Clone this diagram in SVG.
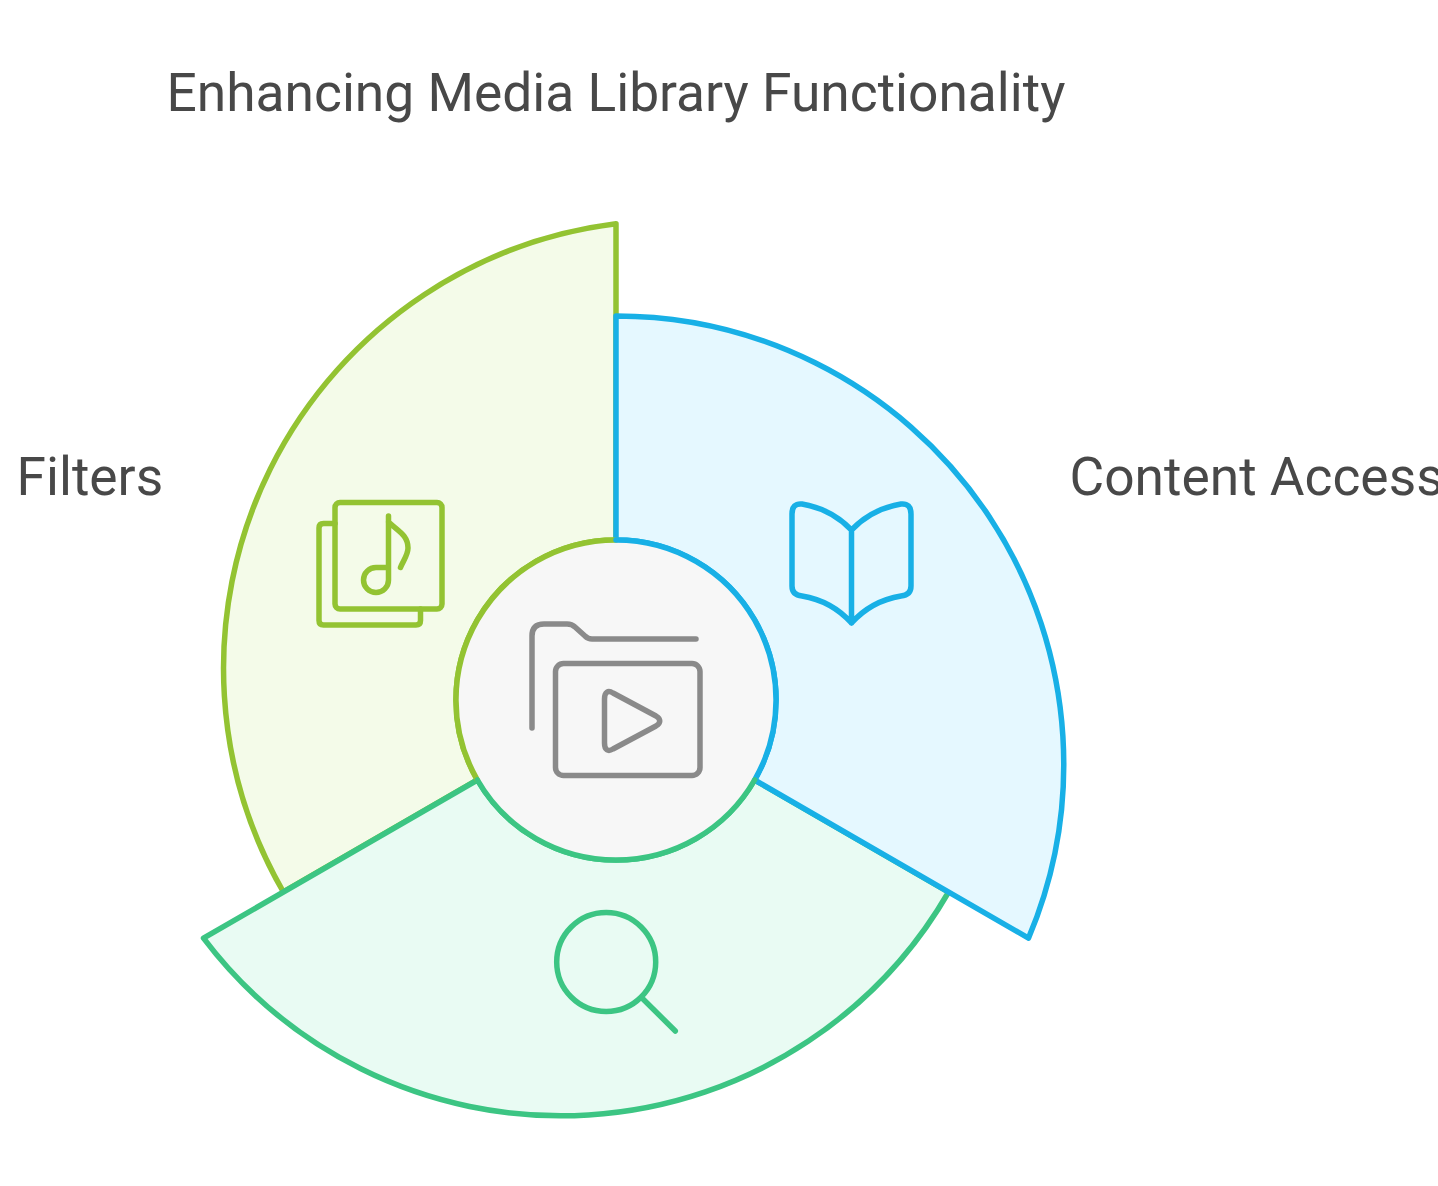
<svg xmlns="http://www.w3.org/2000/svg" width="1438" height="1186" viewBox="0 0 1438 1186">
<style>
text{font-family:Roboto,"Liberation Sans",sans-serif;font-size:53.3px;fill:#484848}
.s{stroke-width:5.5;stroke-linejoin:round;stroke-linecap:round}
.i{fill:none;stroke-width:5.5;stroke-linejoin:round;stroke-linecap:round}
.y{stroke:#93c332}.b{stroke:#18b0e6}.g{stroke:#3cc583}.k{stroke:#8a8a8a}
</style>
<rect width="1438" height="1186" fill="#fff"/>
<text id="title" x="166.500" y="111">Enhancing Media Library Functionality</text>
<g id="filters">
<path class="s y" fill="#f4fbe9" d="M616 540V223.700A448 448 0 0 0 283.400 892L477.400 780A160 160 0 0 1 616 540Z"/>
<path class="i y" d="M335 523.500H323.500Q319 523.500 319 528V620.500Q319 625 323.500 625H416Q420.500 625 420.500 620.500V609"/>
<rect class="i y" x="335" y="502.500" width="107" height="106.500" rx="5"/>
<path class="i y" d="M388.500 516V580A12.500 12.500 0 1 1 376 567.500H388.500M388.500 522C398 531 408 535 408 548C408 555 403 561 400.500 567.500"/>
<text x="16.500" y="494.500">Filters</text>
</g>
<g id="search">
<path class="s g" fill="#e9fbf3" d="M477.400 780L203.500 938.150A448 448 0 0 0 948.600 892L754.600 780A160 160 0 0 1 477.400 780Z"/>
<circle class="i g" cx="606.200" cy="962" r="49.500"/>
<path class="i g" d="M642 998L675.300 1031"/>
</g>
<g id="content-access">
<path class="s b" fill="#e5f8ff" d="M616 540V316A448 448 0 0 1 1028.500 938.150L754.600 780A160 160 0 0 0 616 540Z"/>
<path class="i b" d="M851.500 530C838 516 820 507 802 504Q792 503 792 514V586Q792 595 802 596C820 599 838 608 851.500 623C865 608 883 599 901 596Q911 595 911 586V514Q911 503 901 504C883 507 865 516 851.500 530V623"/>
<text x="1069.500" y="494.500">Content Access</text>
</g>
<g id="center">
<circle cx="616" cy="700" r="160" fill="#f7f7f7"/>
<path class="i y" d="M616 540A160 160 0 0 0 477.400 780"/>
<path class="i b" d="M616 540A160 160 0 0 1 754.600 780"/>
<path class="i g" d="M477.400 780A160 160 0 0 0 754.600 780"/>
<path class="i k" d="M532 728V636Q532 624 544 624H567Q572 624 575 627L585 636Q588 639 592 639H696"/>
<rect class="i k" x="555.500" y="663.500" width="144.500" height="112" rx="8"/>
<path class="i k" d="M604.500 699C604.500 692 608 690 613 693L656 716C661 719 661 723 656 726L613 749C608 752 604.500 750 604.500 743Z"/>
</g>
</svg>
